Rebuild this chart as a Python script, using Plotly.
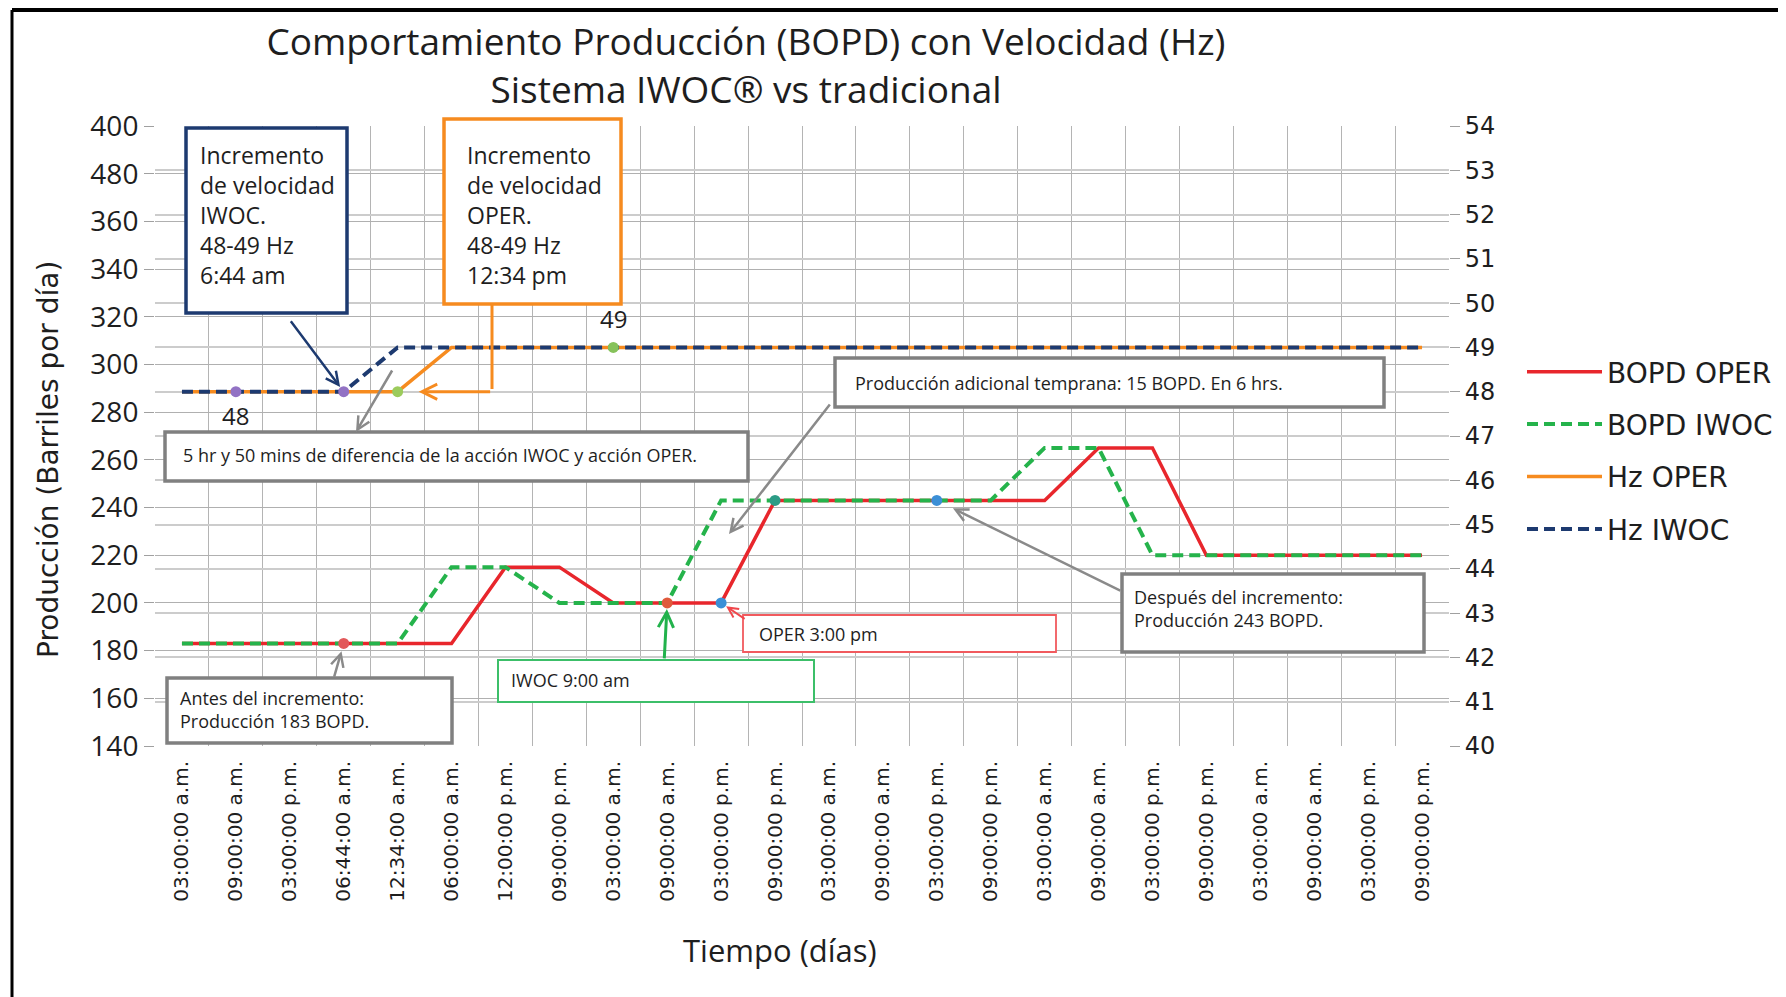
import plotly.graph_objects as go

# ---------------- data ----------------
categories = ["03:00:00 a.m.", "09:00:00 a.m.", "03:00:00 p.m.", "06:44:00 a.m.",
              "12:34:00 a.m.", "06:00:00 a.m.", "12:00:00 p.m.", "09:00:00 p.m.",
              "03:00:00 a.m.", "09:00:00 a.m.", "03:00:00 p.m.", "09:00:00 p.m.",
              "03:00:00 a.m.", "09:00:00 a.m.", "03:00:00 p.m.", "09:00:00 p.m.",
              "03:00:00 a.m.", "09:00:00 a.m.", "03:00:00 p.m.", "09:00:00 p.m.",
              "03:00:00 a.m.", "09:00:00 a.m.", "03:00:00 p.m.", "09:00:00 p.m."]
bopd_oper = [183, 183, 183, 183, 183, 183, 215, 215, 200, 200, 200, 243,
             243, 243, 243, 243, 243, 265, 265, 220, 220, 220, 220, 220]
bopd_iwoc = [183, 183, 183, 183, 183, 215, 215, 200, 200, 200, 243, 243,
             243, 243, 243, 243, 265, 265, 220, 220, 220, 220, 220, 220]
hz_oper = [48, 48, 48, 48, 48, 49, 49, 49, 49, 49, 49, 49,
           49, 49, 49, 49, 49, 49, 49, 49, 49, 49, 49, 49]
hz_iwoc = [48, 48, 48, 48, 49, 49, 49, 49, 49, 49, 49, 49,
           49, 49, 49, 49, 49, 49, 49, 49, 49, 49, 49, 49]

left_tickvals = [140, 160, 180, 200, 220, 240, 260, 280, 300, 320, 340, 360, 380, 400]
left_ticktext = ["140", "160", "180", "200", "220", "240", "260", "280", "300", "320",
                 "340", "360", "480", "400"]

hz_marker_idx = [1, 3, 4, 8]
hz_marker_colors = ["#9272c4", "#9272c4", "#9ccb5c", "#86c25a"]
bopd_marker_idx = [3, 9, 10, 11, 14]
bopd_marker_colors = ["#e2585a", "#e05a3c", "#3b8fd6", "#2c9c86", "#3b8fd6"]

title_text = "Comportamiento Producción (BOPD) con Velocidad (Hz)<br>Sistema IWOC® vs tradicional"

# ---------------- layout geometry (pixels) ----------------
FW, FH = 1786, 997
L0, R0, T0, B0 = 155, 1449, 127, 747      # base frame used for relative placement
DX, DY = -8, -9                            # global shift of plot block
W, H = R0 - L0, B0 - T0


def px(x):
    return (x - L0) / W


def py(y):
    return (B0 - y) / H


xs = list(range(len(categories)))

RED = "#e8262c"
GREEN = "#25b34b"
ORANGE = "#f68b1f"
NAVY = "#1d3a70"
GREY = "#808080"
TXT = "#1e1e1e"

fig = go.Figure()
fig.add_trace(go.Scatter(x=xs, y=bopd_oper, name="BOPD OPER", mode="lines",
                         line=dict(color=RED, width=3.5), legendgroup="a"))
fig.add_trace(go.Scatter(x=xs, y=bopd_iwoc, name="BOPD IWOC", mode="lines",
                         line=dict(color=GREEN, width=4, dash="11px,6px"), legendgroup="b"))
fig.add_trace(go.Scatter(x=xs, y=hz_oper, name="Hz OPER", mode="lines", yaxis="y2",
                         line=dict(color=ORANGE, width=3.5), legendgroup="c"))
fig.add_trace(go.Scatter(x=xs, y=hz_iwoc, name="Hz IWOC", mode="lines", yaxis="y2",
                         line=dict(color=NAVY, width=4, dash="11px,6px"), legendgroup="d"))

fig.add_trace(go.Scatter(x=hz_marker_idx, y=[hz_oper[i] for i in hz_marker_idx], mode="markers",
                         yaxis="y2", showlegend=False, hoverinfo="skip",
                         marker=dict(size=11, color=hz_marker_colors)))
fig.add_trace(go.Scatter(x=bopd_marker_idx, y=[bopd_oper[i] for i in bopd_marker_idx],
                         mode="markers", showlegend=False, hoverinfo="skip",
                         marker=dict(size=11, color=bopd_marker_colors)))

shapes = []
annotations = []


def box(x0, y0, x1, y1, color, width):
    shapes.append(dict(type="rect", xref="paper", yref="paper", x0=px(x0), x1=px(x1),
                       y0=py(y1), y1=py(y0), line=dict(color=color, width=width),
                       fillcolor="white", layer="above"))


def text(x, y, s, size, family="Open Sans", anchor="left"):
    annotations.append(dict(xref="paper", yref="paper", x=px(x), y=py(y), text=s,
                            showarrow=False, xanchor=anchor, yanchor="middle", align="left",
                            font=dict(family=family, size=size, color=TXT)))


def arrow_paper(hx, hy, ax, ay, color, width, head=5, size=1.0, standoff=0):
    annotations.append(dict(xref="paper", yref="paper", x=px(hx), y=py(hy), text="",
                            showarrow=True, ax=ax, ay=ay, axref="pixel", ayref="pixel",
                            arrowcolor=color, arrowwidth=width, arrowhead=head,
                            arrowsize=size, standoff=standoff))


def arrow_data(xi, yv, yref, ax, ay, color, width, head=5, size=1.0, standoff=0):
    annotations.append(dict(xref="x", yref=yref, x=xi, y=yv, text="",
                            showarrow=True, ax=ax, ay=ay, axref="pixel", ayref="pixel",
                            arrowcolor=color, arrowwidth=width, arrowhead=head,
                            arrowsize=size, standoff=standoff))


# boxes
box(186, 129, 347, 314, NAVY, 3.5)
box(444, 120, 621, 305, ORANGE, 3.5)
box(165, 433, 748, 482, GREY, 3.5)
box(835, 359, 1384, 408, GREY, 3.5)
box(1122, 575, 1424, 653, GREY, 3.5)
box(743, 616, 1056, 653, "#f15a5e", 1.8)
box(498, 661, 814, 703, "#3cbf69", 2)
box(167, 679, 452, 744, GREY, 3.5)

# orange connector vertical part
shapes.append(dict(type="line", xref="paper", yref="paper", x0=px(492), x1=px(492),
                   y0=py(305), y1=py(390), line=dict(color=ORANGE, width=3), layer="above"))

# box texts
text(198, 216, "Incremento<br>de velocidad<br>IWOC.<br>48-49 Hz<br>6:44 am", 23)
text(465, 216, "Incremento<br>de velocidad<br>OPER.<br>48-49 Hz<br>12:34 pm", 23)
text(181, 456, "5 hr y 50 mins de diferencia de la acción IWOC y acción OPER.", 18)
text(853, 384, "Producción adicional temprana: 15 BOPD. En 6 hrs.", 18)
text(1132, 609, "Después del incremento:<br>Producción 243 BOPD.", 18)
text(757, 635, "OPER 3:00 pm", 18)
text(509, 681, "IWOC 9:00 am", 18)
text(178, 710, "Antes del incremento:<br>Producción 183 BOPD.", 18)

# data labels 48 / 49
annotations.append(dict(xref="x", yref="y2", x=1, y=hz_oper[1], text="48", showarrow=False,
                        yshift=-24, font=dict(family="Open Sans", size=24, color=TXT)))
annotations.append(dict(xref="x", yref="y2", x=8, y=hz_oper[8], text="49", showarrow=False,
                        yshift=29, font=dict(family="Open Sans", size=24, color=TXT)))

# arrows
arrow_data(3, hz_iwoc[3], "y2", -54, -72, NAVY, 2.5, standoff=6)
arrow_data(4, hz_oper[4], "y2", 94, 0, ORANGE, 3, standoff=21)
arrow_paper(356, 433, 37, -63, "#8a8a8a", 2.5)
arrow_paper(729, 535, 102, -131, "#8a8a8a", 2.5)
arrow_data(14, bopd_oper[14], "y", 185, 91, "#8a8a8a", 2.5, standoff=18)
arrow_data(10, bopd_oper[10], "y", 25, 17, "#f0474c", 2, standoff=6)
arrow_data(9, bopd_oper[9], "y", -3, 57, "#22b24c", 3, standoff=6)
arrow_data(3, bopd_oper[3], "y", -10, 35, "#8a8a8a", 2.5, standoff=8)

# axis titles
annotations.append(dict(xref="paper", yref="paper", x=px(48), y=py(461),
                        text="Producción (Barriles por día)", textangle=-90, showarrow=False,
                        xanchor="center", yanchor="middle",
                        font=dict(family="DejaVu Sans", size=28, color=TXT)))
annotations.append(dict(xref="paper", yref="paper", x=px(780), y=py(951),
                        text="Tiempo (días)", showarrow=False, xanchor="center", yanchor="middle",
                        font=dict(family="Open Sans", size=31, color=TXT)))

# outer frame
shapes.append(dict(type="line", xref="paper", yref="paper", x0=px(12), x1=px(1800),
                   y0=py(11), y1=py(11), line=dict(color="black", width=4)))
shapes.append(dict(type="line", xref="paper", yref="paper", x0=px(12), x1=px(12),
                   y0=py(11), y1=py(1010), line=dict(color="black", width=3)))
shapes.append(dict(type="line", xref="paper", yref="paper", x0=px(12), x1=px(1800),
                   y0=py(1004), y1=py(1004), line=dict(color="#9a9a9a", width=2)))

fig.update_layout(
    width=FW, height=FH,
    margin=dict(l=L0 + DX, r=FW - (R0 + DX), t=T0 + DY, b=FH - (B0 + DY), autoexpand=False),
    paper_bgcolor="white", plot_bgcolor="white",
    title=dict(text=title_text, x=738 / FW, xanchor="center", y=1 - 47 / FH, yanchor="middle",
               font=dict(family="Open Sans", size=37, color=TXT)),
    xaxis=dict(range=[-0.5, len(categories) - 0.5], tickmode="array", tickvals=xs,
               ticktext=categories, tickangle=-90, showgrid=False, zeroline=False,
               ticks="", showline=False, ticklabelstandoff=10,
               tickfont=dict(family="DejaVu Sans", size=20, color=TXT),
               minor=dict(tick0=-0.5, dtick=1, showgrid=True, gridcolor="#b4b4b4", gridwidth=1.2)),
    yaxis=dict(range=[140, 400], tickmode="array", tickvals=left_tickvals, ticktext=left_ticktext,
               showgrid=True, gridcolor="#b0b0b0", gridwidth=1.2, zeroline=False,
               ticks="outside", ticklen=10, tickcolor="#a0a0a0", tickwidth=1.2,
               tickfont=dict(family="Open Sans", size=28, color=TXT)),
    yaxis2=dict(range=[40, 54], dtick=1, tick0=40, overlaying="y", side="right",
                showgrid=True, gridcolor="#cccccc", gridwidth=2, zeroline=False,
                ticks="outside", ticklen=10, tickcolor="#a0a0a0", tickwidth=1.2,
                tickfont=dict(family="DejaVu Sans", size=24, color=TXT)),
    legend=dict(x=px(1522), y=py(348), xanchor="left", yanchor="top",
                font=dict(family="DejaVu Sans", size=28, color=TXT),
                tracegroupgap=13, itemwidth=75, bgcolor="rgba(0,0,0,0)"),
    shapes=shapes,
    annotations=annotations,
)

fig.write_html("out.html")
